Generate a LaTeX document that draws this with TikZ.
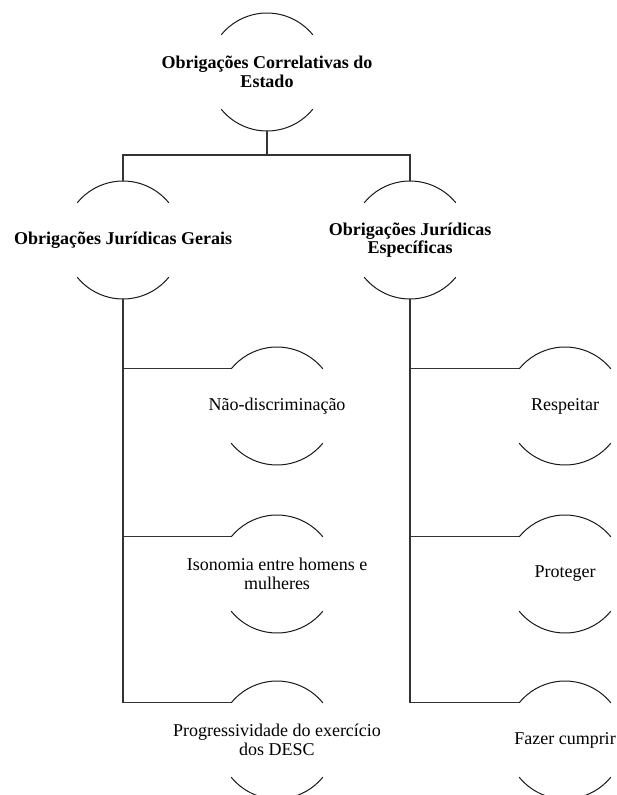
\documentclass[tikz,border=0pt]{standalone}
\usepackage{fontspec}
\setmainfont{Liberation Serif}

\newcommand\moon[1]{%
	\draw[moonline]([shift={(39:\rad)}]#1.center) arc[start angle=39,end angle=141,radius=\rad];
	\draw[moonline]([shift={(219:\rad)}]#1.center) arc[start angle=219,end angle=321,radius=\rad];
	\coordinate(#1-n) at ([shift={(90:\rad)}]#1.center);
	\coordinate(#1-s) at ([shift={(270:\rad)}]#1.center);
	\coordinate(#1-w) at ([shift={(141:\rad)}]#1.center);
}

\begin{document}
\begin{tikzpicture}[x=1pt,y=1pt,
	lbl/.style={align=center,inner sep=0pt,font=\fontsize{18}{18.5}\selectfont},
	head/.style={lbl,font=\fontsize{18}{18.5}\selectfont\bfseries},
	link/.style={line width=1.1pt,draw=black!80},
	moonline/.style={line width=1pt,draw=black!90}]
\def\rad{59}

\useasboundingbox(0,0) rectangle (616,-795);
\clip(0,0) rectangle (616,-795);

\node[head](top) at (267,-72) {Obrigações Correlativas do\\Estado};
\node[head](gen) at (123,-240) {Obrigações Jurídicas Gerais};
\node[head](esp) at (410,-240) {Obrigações Jurídicas\\Específicas};

\foreach \nm/\y/\txt in {nd/406/Não-discriminação,
	iso/574/{Isonomia entre homens e\\mulheres},
	prog/740/{Progressividade do exercício\\dos DESC}}
	\node[lbl](\nm) at (277,-\y) {\txt};

\foreach \nm/\y/\txt in {res/406/Respeitar,pro/574/Proteger,faz/740/Fazer cumprir}
	\node[lbl](\nm) at (565,-\y) {\txt};

\foreach \x in {top,gen,esp,nd,iso,prog,res,pro,faz}{
	\moon{\x}
}

\draw[link](top-s)--++(0,-24) coordinate(bar);
\draw[link](gen-n)|-(bar)-|(esp-n);

\foreach \x in {nd,iso,prog}
	\draw[link](gen-s)|-(\x-w);
\foreach \x in {res,pro,faz}
	\draw[link](esp-s)|-(\x-w);

\end{tikzpicture}
\end{document}
